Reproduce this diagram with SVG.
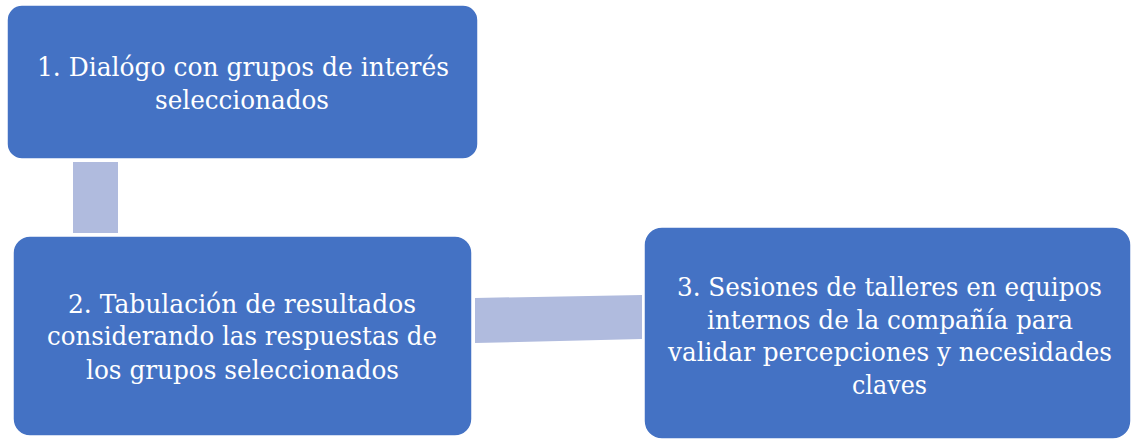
<svg xmlns="http://www.w3.org/2000/svg" width="1131" height="440" viewBox="0 0 1131 440">
<style>
.box{fill:#4472C4;stroke:#ffffff;stroke-width:1.5}
.conn{fill:#B0BBDE}
.t{font-family:'DejaVu Serif',serif;font-size:26px;fill:#ffffff;text-anchor:middle}
</style>
<rect width="1131" height="440" fill="#ffffff"/>
<g id="connectors">
<rect class="conn" x="73" y="162" width="45" height="71"/>
<polygon class="conn" points="475,298 642,295 642,339 475,343"/>
</g>
<g id="node1">
<rect class="box" x="7" y="5" width="471" height="154" rx="15"/>
<text class="t" x="243" y="76" textLength="412" lengthAdjust="spacingAndGlyphs">1. Dialógo con grupos de interés</text>
<text class="t" x="242" y="109" textLength="174" lengthAdjust="spacingAndGlyphs">seleccionados</text>
</g>
<g id="node2">
<rect class="box" x="13" y="236" width="459" height="200" rx="17"/>
<text class="t" x="242" y="313" textLength="348" lengthAdjust="spacingAndGlyphs">2. Tabulación de resultados</text>
<text class="t" x="242" y="345" textLength="390" lengthAdjust="spacingAndGlyphs">considerando las respuestas de</text>
<text class="t" x="242.5" y="379" textLength="313" lengthAdjust="spacingAndGlyphs">los grupos seleccionados</text>
</g>
<g id="node3">
<rect class="box" x="644" y="227" width="487" height="212" rx="18"/>
<text class="t" x="889.5" y="296" textLength="425" lengthAdjust="spacingAndGlyphs">3. Sesiones de talleres en equipos</text>
<text class="t" x="890" y="329" textLength="366" lengthAdjust="spacingAndGlyphs">internos de la compañía para</text>
<text class="t" x="890" y="361" textLength="444" lengthAdjust="spacingAndGlyphs">validar percepciones y necesidades</text>
<text class="t" x="889.5" y="394" textLength="75" lengthAdjust="spacingAndGlyphs">claves</text>
</g>
</svg>
